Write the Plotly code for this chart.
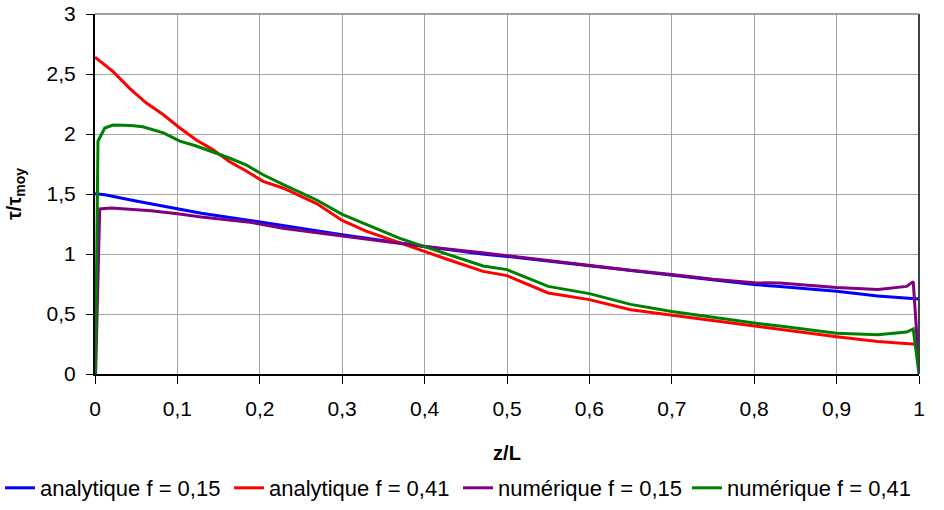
import plotly.graph_objects as go

# ---------------- data ----------------
x_ticks = [0, 0.1, 0.2, 0.3, 0.4, 0.5, 0.6, 0.7, 0.8, 0.9, 1.0]
x_ticktext = ["0", "0,1", "0,2", "0,3", "0,4", "0,5", "0,6", "0,7", "0,8", "0,9", "1"]
y_ticks = [0, 0.5, 1, 1.5, 2, 2.5, 3]
y_ticktext = ["0", "0,5", "1", "1,5", "2", "2,5", "3"]

# analytique f = 0,15 (blue)
z_ana15 = [0.0, 0.012, 0.048, 0.068, 0.1, 0.129, 0.188, 0.228, 0.3, 0.4, 0.47, 0.5, 0.55,
           0.6, 0.65, 0.7, 0.75, 0.8, 0.831, 0.9, 0.95, 1.0]
v_ana15 = [1.503, 1.494, 1.444, 1.417, 1.375, 1.34, 1.28, 1.235, 1.16, 1.063, 1.0, 0.98, 0.94,
           0.9, 0.86, 0.825, 0.785, 0.745, 0.73, 0.69, 0.65, 0.625]

# analytique f = 0,41 (red)
z_ana41 = [0.0, 0.022, 0.042, 0.062, 0.083, 0.103, 0.123, 0.143, 0.163, 0.184, 0.204, 0.228,
           0.269, 0.3, 0.329, 0.37, 0.399, 0.43, 0.471, 0.5, 0.55, 0.6, 0.65, 0.7, 0.75, 0.8,
           0.831, 0.9, 0.95, 1.0]
v_ana41 = [2.64, 2.52, 2.38, 2.26, 2.16, 2.05, 1.95, 1.87, 1.77, 1.69, 1.605, 1.55,
           1.42, 1.28, 1.19, 1.09, 1.02, 0.95, 0.855, 0.82, 0.675, 0.62, 0.535, 0.49, 0.44, 0.40,
           0.37, 0.31, 0.27, 0.245]

# numérique f = 0,15 (purple)
z_num15 = [0.0007, 0.0057, 0.02, 0.048, 0.068, 0.1, 0.129, 0.188, 0.228, 0.3, 0.4, 0.47, 0.5,
           0.55, 0.6, 0.65, 0.7, 0.75, 0.8, 0.831, 0.9, 0.95, 0.985, 0.993, 1.0]
v_num15 = [0.0, 1.375, 1.383, 1.37, 1.36, 1.336, 1.308, 1.265, 1.215, 1.15, 1.063, 1.01, 0.985,
           0.947, 0.905, 0.865, 0.83, 0.79, 0.76, 0.758, 0.72, 0.705, 0.73, 0.77, 0.05]

# numérique f = 0,41 (green)
z_num41 = [0.0005, 0.0036, 0.0118, 0.022, 0.044, 0.058, 0.083, 0.103, 0.123, 0.143, 0.163,
           0.184, 0.204, 0.228, 0.269, 0.3, 0.329, 0.37, 0.399, 0.43, 0.471, 0.5, 0.55, 0.6,
           0.65, 0.7, 0.75, 0.8, 0.831, 0.9, 0.95, 0.985, 0.993, 1.0]
v_num41 = [0.0, 1.94, 2.05, 2.075, 2.07, 2.06, 2.01, 1.94, 1.90, 1.85, 1.80,
           1.74, 1.66, 1.58, 1.45, 1.33, 1.245, 1.13, 1.063, 0.994, 0.90, 0.87, 0.73, 0.67,
           0.58, 0.52, 0.47, 0.425, 0.40, 0.34, 0.327, 0.35, 0.375, 0.0]

series = [
    ("analytique f = 0,15", z_ana15, v_ana15, "#0000FF"),
    ("analytique f = 0,41", z_ana41, v_ana41, "#FF0000"),
    ("numérique f = 0,15", z_num15, v_num15, "#800080"),
    ("numérique f = 0,41", z_num41, v_num41, "#008000"),
]

FONT = "Liberation Sans, Arial, sans-serif"

fig = go.Figure()
for name, zz, vv, col in series:
    fig.add_trace(go.Scatter(x=zz, y=vv, mode="lines", name=name,
                             line=dict(color=col, width=3)))

fig.update_layout(
    width=944, height=510,
    margin=dict(l=95, r=25, t=14, b=136, autoexpand=False),
    paper_bgcolor="white", plot_bgcolor="white",
    font=dict(family=FONT, color="black", size=20),
    showlegend=True,
    legend=dict(orientation="h", xref="paper", yref="paper",
                x=-95 / 824, xanchor="left", y=-0.3167, yanchor="middle",
                font=dict(size=22, family=FONT), itemwidth=30,
                entrywidth=184, entrywidthmode="pixels",
                bgcolor="rgba(0,0,0,0)"),
    xaxis=dict(range=[0, 1], tickvals=x_ticks, ticktext=x_ticktext,
               showgrid=True, gridcolor="#A6A6A6", gridwidth=1, automargin=True,
               zeroline=False, showline=True, linecolor="black", linewidth=2,
               ticks="outside", ticklen=8, tickcolor="black", tickwidth=1,
               ticklabelstandoff=7, ticklabeloverflow="allow",
               tickfont=dict(size=21),
               title=dict(text="<b>z/L</b>", font=dict(size=20), standoff=27)),
    yaxis=dict(range=[0, 3], tickvals=y_ticks, ticktext=y_ticktext,
               showgrid=True, gridcolor="#A6A6A6", gridwidth=1, automargin=True,
               zeroline=False, showline=True, linecolor="black", linewidth=2,
               ticks="outside", ticklen=7, tickcolor="black", tickwidth=1,
               ticklabelstandoff=6, ticklabeloverflow="allow",
               tickfont=dict(size=21),
               title=dict(text="<b>τ/τ<sub>moy</sub></b>", font=dict(size=20), standoff=20)),
    shapes=[dict(type="line", xref="paper", yref="paper", x0=1, x1=1, y0=0, y1=1,
                 line=dict(color="#404040", width=2)),
            dict(type="line", xref="paper", yref="paper", x0=0, x1=1, y0=1, y1=1,
                 line=dict(color="#808080", width=1.5))],
)

# remove the default 8px page margin so the figure fills the 944x510 window
fig.write_html("out.html",
               config={"displayModeBar": False},
               post_script="document.body.style.margin='0';document.body.style.overflow='hidden';")
